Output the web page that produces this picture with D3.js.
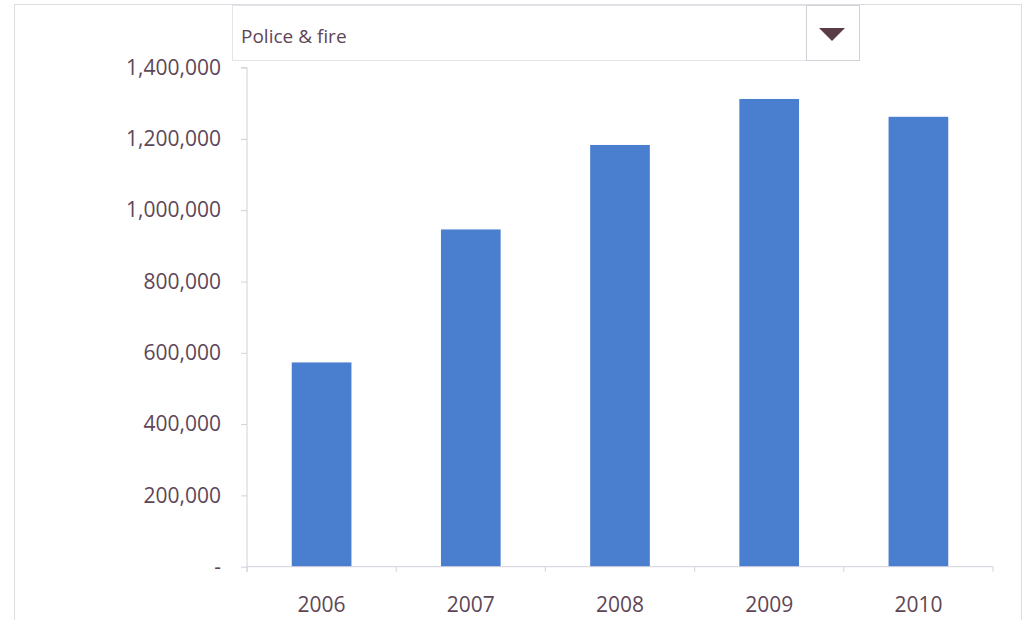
<!DOCTYPE html>
<html><head><meta charset="utf-8">
<script src="https://cdn.jsdelivr.net/npm/d3@7"></script>
<style>body{margin:0;background:#fff;} svg{display:block;}</style>
</head><body>
<svg id="c" width="1026" height="620"></svg>
<script>
const categories = ["2006","2007","2008","2009","2010"];
const values = [573000, 946000, 1183000, 1312000, 1262000];
const yTicks = [0,200000,400000,600000,800000,1000000,1200000,1400000];
const selection = "Police & fire";

const svg = d3.select("#c");
const textColor = "#5e4656";
const axisColor = "#d2d0da";
const font = "'Open Sans', sans-serif";

// outer frame
svg.append("rect").attr("x",14.5).attr("y",4.5).attr("width",1007).attr("height",630)
  .attr("fill","none").attr("stroke","#dcdce2");

// dropdown
svg.append("rect").attr("x",232.5).attr("y",5.5).attr("width",627).attr("height",55)
  .attr("fill","#fff").attr("stroke","#e6e4ea");
svg.append("rect").attr("x",806.5).attr("y",5.5).attr("width",53).attr("height",55)
  .attr("fill","#fff").attr("stroke","#d4d0d8");
svg.append("path").attr("d","M819,28 L845,28 L832,41 Z").attr("fill","#5a3c46");
svg.append("text").attr("x",241).attr("y",43).attr("font-family",font).attr("font-size",19)
  .attr("fill",textColor).text(selection);

const x = d3.scaleBand().domain(categories).range([247,993]).paddingInner(0.6).paddingOuter(0.3);
const y = d3.scaleLinear().domain([0,1400000]).range([566.7,67.6]);

// bars
svg.selectAll("rect.bar").data(values).join("rect").attr("class","bar")
  .attr("x",(d,i)=>x(categories[i])).attr("width",x.bandwidth())
  .attr("y",d=>y(d)).attr("height",d=>y(0)-y(d)).attr("fill","#4a7fcf");

// y axis
const yAxis = d3.axisLeft(y).tickValues(yTicks).tickSize(6).tickPadding(20)
  .tickFormat(d=> d===0 ? "-" : d3.format(",")(d));
const gy = svg.append("g").attr("transform","translate(247,0)").call(yAxis);
gy.select(".domain").attr("stroke",axisColor).attr("d","M-6,67.6H0V572");
gy.selectAll(".tick line").attr("stroke",axisColor);
gy.selectAll(".tick text").attr("fill",textColor).attr("font-family",font).attr("font-size",21);

// x axis
const gx = svg.append("g").attr("transform",`translate(0,${y(0)})`);
gx.append("line").attr("x1",247).attr("x2",993).attr("y1",0).attr("y2",0).attr("stroke",axisColor);
const bounds = categories.map(c=>x(c) - (x.step()-x.bandwidth())/2).concat([993]);
gx.selectAll("line.tk").data(bounds).join("line").attr("class","tk")
  .attr("x1",d=>d).attr("x2",d=>d).attr("y1",0).attr("y2",5).attr("stroke",axisColor);
gx.selectAll("text").data(categories).join("text")
  .attr("x",d=>x(d)+x.bandwidth()/2).attr("y",45).attr("text-anchor","middle")
  .attr("font-family",font).attr("font-size",21).attr("fill",textColor).text(d=>d);
</script>
</body></html>
